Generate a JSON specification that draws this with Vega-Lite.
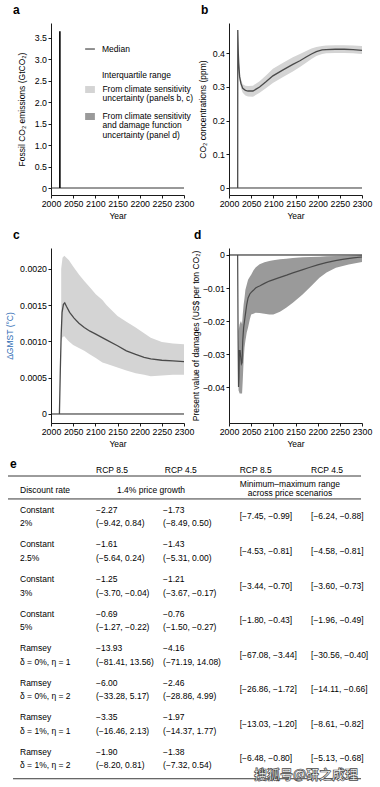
{
"$schema": "https://vega.github.io/schema/vega-lite/v6.json",
"padding": {"left": 5, "top": 4, "right": 5, "bottom": 2},
"columns": 2,
"spacing": {"row": 53, "column": 45},
"bounds": "flush",
"align": "each",
"config": {
  "font": "Liberation Sans",
  "view": {"stroke": null},
  "axis": {"grid": false, "domainColor": "#000", "domainWidth": 0.9, "tickColor": "#000", "tickWidth": 0.9, "tickSize": 3, "labelColor": "#000", "labelFontSize": 8.8, "labelPadding": 1.5, "titleColor": "#000", "titleFontSize": 8.5, "titleFontWeight": "normal", "labelOverlap": false, "labelFlush": false},
  "axisX": {"titlePadding": 3},
  "title": {"fontSize": 12, "fontWeight": "bold", "anchor": "start", "frame": "group", "offset": 6, "color": "#000"},
  "text": {"fontSize": 8.5, "color": "#000"}
},
"datasets": {
  "base": [{"x": 2000, "x2": 2300, "y": 0}],
  "a_spike": [{"x": 2020, "y": 0, "y2": 3.65}],
  "a_legline": [{"x": 2077, "x2": 2099, "y": 3.237}],
  "a_legrect": [
    {"x": 2077, "x2": 2099, "y": 2.213, "y2": 2.375, "kind": "Climate sensitivity"},
    {"x": 2077, "x2": 2099, "y": 1.584, "y2": 1.747, "kind": "Climate sensitivity and damage function"}
  ],
  "a_legtext": [
    {"x": 2115, "y": 3.237, "t": "Median"},
    {"x": 2115, "y": 2.63, "t": "Interquartile range"},
    {"x": 2116, "y": 2.305, "t": "From climate sensitivity"},
    {"x": 2116, "y": 2.096, "t": "uncertainty (panels b, c)"},
    {"x": 2116, "y": 1.677, "t": "From climate sensitivity"},
    {"x": 2116, "y": 1.467, "t": "and damage function"},
    {"x": 2116, "y": 1.234, "t": "uncertainty (panel d)"}
  ],
  "b_med": [
    {"x": 2019.6, "y": 0}, {"x": 2019.8, "y": 0.469}, {"x": 2021, "y": 0.40}, {"x": 2022, "y": 0.37},
    {"x": 2024, "y": 0.33}, {"x": 2027, "y": 0.31}, {"x": 2031, "y": 0.296}, {"x": 2037, "y": 0.29},
    {"x": 2043, "y": 0.288}, {"x": 2054, "y": 0.288}, {"x": 2069, "y": 0.30}, {"x": 2084, "y": 0.316},
    {"x": 2099, "y": 0.333}, {"x": 2121, "y": 0.35}, {"x": 2144, "y": 0.367}, {"x": 2160, "y": 0.378},
    {"x": 2174, "y": 0.389}, {"x": 2186, "y": 0.398}, {"x": 2197, "y": 0.405}, {"x": 2210, "y": 0.41},
    {"x": 2219, "y": 0.411}, {"x": 2240, "y": 0.412}, {"x": 2260, "y": 0.412}, {"x": 2280, "y": 0.411},
    {"x": 2300, "y": 0.409}
  ],
  "b_band": [
    {"x": 2022, "y": 0.36, "y2": 0.385}, {"x": 2024, "y": 0.318, "y2": 0.342}, {"x": 2027, "y": 0.297, "y2": 0.323},
    {"x": 2031, "y": 0.283, "y2": 0.308}, {"x": 2037, "y": 0.275, "y2": 0.304}, {"x": 2043, "y": 0.272, "y2": 0.303},
    {"x": 2054, "y": 0.271, "y2": 0.304}, {"x": 2069, "y": 0.283, "y2": 0.317}, {"x": 2084, "y": 0.297, "y2": 0.335},
    {"x": 2099, "y": 0.312, "y2": 0.354}, {"x": 2121, "y": 0.329, "y2": 0.371}, {"x": 2144, "y": 0.346, "y2": 0.388},
    {"x": 2160, "y": 0.359, "y2": 0.398}, {"x": 2174, "y": 0.372, "y2": 0.407}, {"x": 2186, "y": 0.383, "y2": 0.414},
    {"x": 2197, "y": 0.392, "y2": 0.419}, {"x": 2210, "y": 0.398, "y2": 0.422}, {"x": 2219, "y": 0.400, "y2": 0.423},
    {"x": 2240, "y": 0.401, "y2": 0.424}, {"x": 2260, "y": 0.401, "y2": 0.424}, {"x": 2280, "y": 0.400, "y2": 0.423},
    {"x": 2300, "y": 0.398, "y2": 0.422}
  ],
  "c_med": [
    {"x": 2019, "y": 0}, {"x": 2021, "y": 0.0006}, {"x": 2023, "y": 0.0011}, {"x": 2025, "y": 0.0014},
    {"x": 2028, "y": 0.00151}, {"x": 2031, "y": 0.00153}, {"x": 2035, "y": 0.00148}, {"x": 2042, "y": 0.0014},
    {"x": 2052, "y": 0.00132}, {"x": 2063, "y": 0.00125}, {"x": 2075, "y": 0.00119}, {"x": 2088, "y": 0.00114},
    {"x": 2101, "y": 0.0011}, {"x": 2125, "y": 0.00102}, {"x": 2150, "y": 0.00094}, {"x": 2170, "y": 0.00087},
    {"x": 2191, "y": 0.00082}, {"x": 2210, "y": 0.00078}, {"x": 2225, "y": 0.00076}, {"x": 2250, "y": 0.00074},
    {"x": 2275, "y": 0.00073}, {"x": 2300, "y": 0.00072}
  ],
  "c_band": [
    {"x": 2023, "y": 0.00100, "y2": 0.00200}, {"x": 2026, "y": 0.00106, "y2": 0.00215}, {"x": 2030, "y": 0.00107, "y2": 0.00218},
    {"x": 2040, "y": 0.00100, "y2": 0.00212}, {"x": 2050, "y": 0.00095, "y2": 0.00203}, {"x": 2063, "y": 0.00091, "y2": 0.00192},
    {"x": 2075, "y": 0.00087, "y2": 0.00183}, {"x": 2088, "y": 0.00082, "y2": 0.00174}, {"x": 2101, "y": 0.00077, "y2": 0.00165},
    {"x": 2116, "y": 0.00071, "y2": 0.00157}, {"x": 2125, "y": 0.00069, "y2": 0.00150}, {"x": 2150, "y": 0.00064, "y2": 0.00135},
    {"x": 2170, "y": 0.00060, "y2": 0.00127}, {"x": 2191, "y": 0.00056, "y2": 0.00119}, {"x": 2210, "y": 0.00054, "y2": 0.00111},
    {"x": 2225, "y": 0.00052, "y2": 0.00105}, {"x": 2250, "y": 0.00053, "y2": 0.00099}, {"x": 2275, "y": 0.00054, "y2": 0.00097},
    {"x": 2300, "y": 0.00054, "y2": 0.00096}
  ],
  "d_med": [
    {"x": 2019.5, "y": 0}, {"x": 2020.5, "y": -0.025}, {"x": 2021.5, "y": -0.04}, {"x": 2022.5, "y": -0.037},
    {"x": 2023.5, "y": -0.029}, {"x": 2025, "y": -0.029}, {"x": 2026.5, "y": -0.031}, {"x": 2028, "y": -0.033},
    {"x": 2029.5, "y": -0.0326}, {"x": 2031, "y": -0.026}, {"x": 2033, "y": -0.022}, {"x": 2035, "y": -0.02},
    {"x": 2037, "y": -0.018}, {"x": 2040, "y": -0.015}, {"x": 2043, "y": -0.013}, {"x": 2047, "y": -0.0118},
    {"x": 2050, "y": -0.0113}, {"x": 2055, "y": -0.0107}, {"x": 2060, "y": -0.0100}, {"x": 2065, "y": -0.0096},
    {"x": 2069, "y": -0.0094}, {"x": 2080, "y": -0.0086}, {"x": 2091, "y": -0.0079}, {"x": 2110, "y": -0.0070},
    {"x": 2130, "y": -0.0061}, {"x": 2144, "y": -0.0054}, {"x": 2165, "y": -0.0045}, {"x": 2181, "y": -0.0038},
    {"x": 2200, "y": -0.0030}, {"x": 2219, "y": -0.0023}, {"x": 2240, "y": -0.0017}, {"x": 2256, "y": -0.0013},
    {"x": 2280, "y": -0.0009}, {"x": 2300, "y": -0.0006}
  ],
  "d_band": [
    {"x": 2021.5, "y": -0.041, "y2": -0.023}, {"x": 2024, "y": -0.042, "y2": -0.021}, {"x": 2027, "y": -0.042, "y2": -0.020},
    {"x": 2029.5, "y": -0.042, "y2": -0.021}, {"x": 2031, "y": -0.038, "y2": -0.018}, {"x": 2033, "y": -0.032, "y2": -0.015},
    {"x": 2035, "y": -0.028, "y2": -0.013}, {"x": 2037, "y": -0.026, "y2": -0.0105}, {"x": 2040, "y": -0.0235, "y2": -0.009},
    {"x": 2043, "y": -0.022, "y2": -0.0075}, {"x": 2047, "y": -0.0195, "y2": -0.0066}, {"x": 2050, "y": -0.018, "y2": -0.006},
    {"x": 2055, "y": -0.0178, "y2": -0.0047}, {"x": 2060, "y": -0.0175, "y2": -0.0038}, {"x": 2069, "y": -0.0176, "y2": -0.0028},
    {"x": 2080, "y": -0.0178, "y2": -0.0022}, {"x": 2091, "y": -0.018, "y2": -0.0018}, {"x": 2100, "y": -0.018, "y2": -0.0016},
    {"x": 2115, "y": -0.0172, "y2": -0.0013}, {"x": 2129, "y": -0.016, "y2": -0.0011}, {"x": 2144, "y": -0.0145, "y2": -0.0009},
    {"x": 2166, "y": -0.012, "y2": -0.0007}, {"x": 2185, "y": -0.0095, "y2": -0.0006}, {"x": 2204, "y": -0.0069, "y2": -0.0005},
    {"x": 2220, "y": -0.0053, "y2": -0.0004}, {"x": 2241, "y": -0.0039, "y2": -0.0003}, {"x": 2270, "y": -0.0029, "y2": -0.0002},
    {"x": 2300, "y": -0.0021, "y2": -0.0001}
  ],
  "tbl": [
    {"p": 0, "c": 0, "line": "top", "t": "Constant"}, {"p": 0, "c": 0, "line": "bot", "t": "2%"},
    {"p": 0, "c": 1.045, "line": "top", "t": "−2.27"}, {"p": 0, "c": 1.045, "line": "bot", "t": "(−9.42, 0.84)"},
    {"p": 0, "c": 1.966, "line": "top", "t": "−1.73"}, {"p": 0, "c": 1.966, "line": "bot", "t": "(−8.49, 0.50)"},
    {"p": 0, "c": 3.02, "line": "mid", "t": "[−7.45, −0.99]"}, {"p": 0, "c": 4.0, "line": "mid", "t": "[−6.24, −0.88]"},
    {"p": 1, "c": 0, "line": "top", "t": "Constant"}, {"p": 1, "c": 0, "line": "bot", "t": "2.5%"},
    {"p": 1, "c": 1.045, "line": "top", "t": "−1.61"}, {"p": 1, "c": 1.045, "line": "bot", "t": "(−5.64, 0.24)"},
    {"p": 1, "c": 1.966, "line": "top", "t": "−1.43"}, {"p": 1, "c": 1.966, "line": "bot", "t": "(−5.31, 0.00)"},
    {"p": 1, "c": 3.02, "line": "mid", "t": "[−4.53, −0.81]"}, {"p": 1, "c": 4.0, "line": "mid", "t": "[−4.58, −0.81]"},
    {"p": 2, "c": 0, "line": "top", "t": "Constant"}, {"p": 2, "c": 0, "line": "bot", "t": "3%"},
    {"p": 2, "c": 1.045, "line": "top", "t": "−1.25"}, {"p": 2, "c": 1.045, "line": "bot", "t": "(−3.70, −0.04)"},
    {"p": 2, "c": 1.966, "line": "top", "t": "−1.21"}, {"p": 2, "c": 1.966, "line": "bot", "t": "(−3.67, −0.17)"},
    {"p": 2, "c": 3.02, "line": "mid", "t": "[−3.44, −0.70]"}, {"p": 2, "c": 4.0, "line": "mid", "t": "[−3.60, −0.73]"},
    {"p": 3, "c": 0, "line": "top", "t": "Constant"}, {"p": 3, "c": 0, "line": "bot", "t": "5%"},
    {"p": 3, "c": 1.045, "line": "top", "t": "−0.69"}, {"p": 3, "c": 1.045, "line": "bot", "t": "(−1.27, −0.22)"},
    {"p": 3, "c": 1.966, "line": "top", "t": "−0.76"}, {"p": 3, "c": 1.966, "line": "bot", "t": "(−1.50, −0.27)"},
    {"p": 3, "c": 3.02, "line": "mid", "t": "[−1.80, −0.43]"}, {"p": 3, "c": 4.0, "line": "mid", "t": "[−1.96, −0.49]"},
    {"p": 4, "c": 0, "line": "top", "t": "Ramsey"}, {"p": 4, "c": 0, "line": "bot", "t": "δ = 0%, η = 1"},
    {"p": 4, "c": 1.045, "line": "top", "t": "−13.93"}, {"p": 4, "c": 1.045, "line": "bot", "t": "(−81.41, 13.56)"},
    {"p": 4, "c": 1.966, "line": "top", "t": "−4.16"}, {"p": 4, "c": 1.966, "line": "bot", "t": "(−71.19, 14.08)"},
    {"p": 4, "c": 3.02, "line": "mid", "t": "[−67.08, −3.44]"}, {"p": 4, "c": 4.0, "line": "mid", "t": "[−30.56, −0.40]"},
    {"p": 5, "c": 0, "line": "top", "t": "Ramsey"}, {"p": 5, "c": 0, "line": "bot", "t": "δ = 0%, η = 2"},
    {"p": 5, "c": 1.045, "line": "top", "t": "−6.00"}, {"p": 5, "c": 1.045, "line": "bot", "t": "(−33.28, 5.17)"},
    {"p": 5, "c": 1.966, "line": "top", "t": "−2.46"}, {"p": 5, "c": 1.966, "line": "bot", "t": "(−28.86, 4.99)"},
    {"p": 5, "c": 3.02, "line": "mid", "t": "[−26.86, −1.72]"}, {"p": 5, "c": 4.0, "line": "mid", "t": "[−14.11, −0.66]"},
    {"p": 6, "c": 0, "line": "top", "t": "Ramsey"}, {"p": 6, "c": 0, "line": "bot", "t": "δ = 1%, η = 1"},
    {"p": 6, "c": 1.045, "line": "top", "t": "−3.35"}, {"p": 6, "c": 1.045, "line": "bot", "t": "(−16.46, 2.13)"},
    {"p": 6, "c": 1.966, "line": "top", "t": "−1.97"}, {"p": 6, "c": 1.966, "line": "bot", "t": "(−14.37, 1.77)"},
    {"p": 6, "c": 3.02, "line": "mid", "t": "[−13.03, −1.20]"}, {"p": 6, "c": 4.0, "line": "mid", "t": "[−8.61, −0.82]"},
    {"p": 7, "c": 0, "line": "top", "t": "Ramsey"}, {"p": 7, "c": 0, "line": "bot", "t": "δ = 1%, η = 2"},
    {"p": 7, "c": 1.045, "line": "top", "t": "−1.90"}, {"p": 7, "c": 1.045, "line": "bot", "t": "(−8.20, 0.81)"},
    {"p": 7, "c": 1.966, "line": "top", "t": "−1.38"}, {"p": 7, "c": 1.966, "line": "bot", "t": "(−7.32, 0.54)"},
    {"p": 7, "c": 3.02, "line": "mid", "t": "[−6.48, −0.80]"}, {"p": 7, "c": 4.0, "line": "mid", "t": "[−5.13, −0.68]"}
  ],
  "tbl_rules": [
    {"c": -0.165, "c2": 4.687, "p": -1.17},
    {"c": -0.165, "c2": 4.687, "p": -0.506},
    {"c": -0.096, "c2": 4.687, "p": 7.59}
  ],
  "tbl_heads": [
    {"t": "RCP 8.5", "c": 1.045, "p": -1.345, "al": "left"},
    {"t": "RCP 4.5", "c": 1.99, "p": -1.345, "al": "left"},
    {"t": "RCP 8.5", "c": 3.02, "p": -1.345, "al": "left"},
    {"t": "RCP 4.5", "c": 4.0, "p": -1.345, "al": "left"},
    {"t": "Discount rate", "c": 0, "p": -0.767, "al": "left"},
    {"t": "1.4% price growth", "c": 1.80, "p": -0.767, "al": "center"},
    {"t": "Minimum–maximum range", "c": 3.71, "p": -0.94, "al": "center"},
    {"t": "across price scenarios", "c": 3.71, "p": -0.68, "al": "center"}
  ],
  "tbl_e": [{"t": "e", "c": -0.137, "p": -1.52}],
  "wm": [{"t": "搜狐号@研之成理", "c": 3.93, "p": 7.47}]
},
"concat": [
  {
    "width": 133, "height": 172,
    "title": {"text": "a", "dx": -38},
    "encoding": {
      "x": {"field": "x", "type": "quantitative", "scale": {"domain": [2000, 2300], "nice": false, "zero": false}, "axis": {"values": [2000, 2050, 2100, 2150, 2200, 2250, 2300], "format": "d"}, "title": "Year"},
      "y": {"field": "y", "type": "quantitative", "scale": {"domain": [-0.163, 3.843], "nice": false, "zero": false}, "axis": {"values": [0, 0.5, 1, 1.5, 2, 2.5, 3, 3.5], "labelExpr": "datum.value == 0 ? '0' : format(datum.value, '.1f')", "titlePadding": 8}, "title": "Fossil CO₂ emissions (GtCO₂)"}
    },
    "layer": [
      {"data": {"name": "base"}, "mark": {"type": "rule", "color": "#333", "strokeWidth": 1}, "encoding": {"x2": {"field": "x2"}}},
      {"data": {"name": "a_spike"}, "mark": {"type": "rule", "color": "#000", "strokeWidth": 1.6}, "encoding": {"y2": {"field": "y2"}}},
      {"data": {"name": "a_legline"}, "mark": {"type": "rule", "color": "#555", "strokeWidth": 1.3}, "encoding": {"x2": {"field": "x2"}}},
      {"data": {"name": "a_legrect"}, "mark": {"type": "rect"}, "encoding": {"x2": {"field": "x2"}, "y2": {"field": "y2"}, "color": {"field": "kind", "type": "nominal", "scale": {"domain": ["Climate sensitivity", "Climate sensitivity and damage function"], "range": ["#d4d4d4", "#9a9a9a"]}, "legend": null}}},
      {"data": {"name": "a_legtext"}, "mark": {"type": "text", "align": "left", "baseline": "middle", "fontSize": 8.5}, "encoding": {"text": {"field": "t"}}}
    ]
  },
  {
    "width": 133, "height": 172,
    "title": {"text": "b", "dx": -28},
    "encoding": {
      "x": {"field": "x", "type": "quantitative", "scale": {"domain": [2000, 2300], "nice": false, "zero": false}, "axis": {"values": [2000, 2050, 2100, 2150, 2200, 2250, 2300], "format": "d"}, "title": "Year"},
      "y": {"field": "y", "type": "quantitative", "scale": {"domain": [-0.0208, 0.490], "nice": false, "zero": false}, "axis": {"values": [0, 0.1, 0.2, 0.3, 0.4], "labelExpr": "datum.value == 0 ? '0' : format(datum.value, '.1f')", "titlePadding": 5}, "title": "CO₂ concentrations (ppm)"}
    },
    "layer": [
      {"data": {"name": "b_band"}, "mark": {"type": "area", "color": "#d4d4d4"}, "encoding": {"y2": {"field": "y2"}}},
      {"data": {"name": "base"}, "mark": {"type": "rule", "color": "#333", "strokeWidth": 1}, "encoding": {"x2": {"field": "x2"}}},
      {"data": {"name": "b_med"}, "mark": {"type": "line", "color": "#4a4a4a", "strokeWidth": 1.3}, "encoding": {}}
    ]
  },
  {
    "width": 133, "height": 175,
    "title": {"text": "c", "dx": -38},
    "encoding": {
      "x": {"field": "x", "type": "quantitative", "scale": {"domain": [2000, 2300], "nice": false, "zero": false}, "axis": {"values": [2000, 2050, 2100, 2150, 2200, 2250, 2300], "format": "d"}, "title": "Year"},
      "y": {"field": "y", "type": "quantitative", "scale": {"domain": [-0.000124, 0.002285], "nice": false, "zero": false}, "axis": {"values": [0, 0.0005, 0.001, 0.0015, 0.002], "labelExpr": "datum.value == 0 ? '0' : format(datum.value, '.4f')", "titlePadding": 5, "titleColor": "#2f6db5"}, "title": "ΔGMST (°C)"}
    },
    "layer": [
      {"data": {"name": "c_band"}, "mark": {"type": "area", "color": "#d4d4d4"}, "encoding": {"y2": {"field": "y2"}}},
      {"data": {"name": "base"}, "mark": {"type": "rule", "color": "#222", "strokeWidth": 1}, "encoding": {"x2": {"field": "x2"}}},
      {"data": {"name": "c_med"}, "mark": {"type": "line", "color": "#4a4a4a", "strokeWidth": 1.3}, "encoding": {}}
    ]
  },
  {
    "width": 133, "height": 175,
    "title": {"text": "d", "dx": -35},
    "encoding": {
      "x": {"field": "x", "type": "quantitative", "scale": {"domain": [2000, 2300], "nice": false, "zero": false}, "axis": {"values": [2000, 2050, 2100, 2150, 2200, 2250, 2300], "format": "d"}, "title": "Year"},
      "y": {"field": "y", "type": "quantitative", "scale": {"domain": [-0.0509, 0.00212], "nice": false, "zero": false}, "axis": {"values": [0, -0.01, -0.02, -0.03, -0.04], "labelExpr": "datum.value == 0 ? '0' : format(datum.value, '.2f')", "titlePadding": 2}, "title": "Present value of damages (US$ per ton CO₂)"}
    },
    "layer": [
      {"data": {"name": "d_band"}, "mark": {"type": "area", "color": "#9a9a9a"}, "encoding": {"y2": {"field": "y2"}}},
      {"data": {"name": "base"}, "mark": {"type": "rule", "color": "#111", "strokeWidth": 1}, "encoding": {"x2": {"field": "x2"}}},
      {"data": {"name": "d_med"}, "mark": {"type": "line", "color": "#4a4a4a", "strokeWidth": 1.2}, "encoding": {}}
    ]
  },
  {
    "width": 133, "height": 310,
    "encoding": {
      "x": {"field": "c", "type": "quantitative", "scale": {"domain": [0.426, 2.254], "nice": false, "zero": false}, "axis": null},
      "y": {"field": "p", "type": "quantitative", "scale": {"domain": [-1.17, 7.8], "reverse": true, "nice": false, "zero": false}, "axis": null}
    },
    "layer": [
      {"data": {"name": "tbl_rules"}, "mark": {"type": "rule", "color": "#222", "strokeWidth": 0.9}, "encoding": {"x2": {"field": "c2"}}},
      {"data": {"name": "tbl_heads"}, "transform": [{"filter": "datum.al == 'left'"}], "mark": {"type": "text", "align": "left", "baseline": "middle"}, "encoding": {"text": {"field": "t"}}},
      {"data": {"name": "tbl_heads"}, "transform": [{"filter": "datum.al == 'center'"}], "mark": {"type": "text", "align": "center", "baseline": "middle"}, "encoding": {"text": {"field": "t"}}},
      {"data": {"name": "tbl_e"}, "mark": {"type": "text", "align": "left", "baseline": "middle", "fontSize": 12, "fontWeight": "bold"}, "encoding": {"text": {"field": "t"}}},
      {"data": {"name": "tbl"}, "transform": [{"filter": "datum.line == 'top'"}], "mark": {"type": "text", "align": "left", "baseline": "middle", "dy": -6.5}, "encoding": {"text": {"field": "t"}}},
      {"data": {"name": "tbl"}, "transform": [{"filter": "datum.line == 'bot'"}], "mark": {"type": "text", "align": "left", "baseline": "middle", "dy": 7}, "encoding": {"text": {"field": "t"}}},
      {"data": {"name": "tbl"}, "transform": [{"filter": "datum.line == 'mid'"}], "mark": {"type": "text", "align": "left", "baseline": "middle"}, "encoding": {"text": {"field": "t"}}},
      {"data": {"name": "wm"}, "mark": {"type": "text", "align": "center", "baseline": "middle", "font": "Noto Sans CJK SC", "fontSize": 13, "fontWeight": "bold", "fill": "#ffffff", "stroke": "#444", "strokeWidth": 0.7}, "encoding": {"text": {"field": "t"}}}
    ]
  }
]
}
